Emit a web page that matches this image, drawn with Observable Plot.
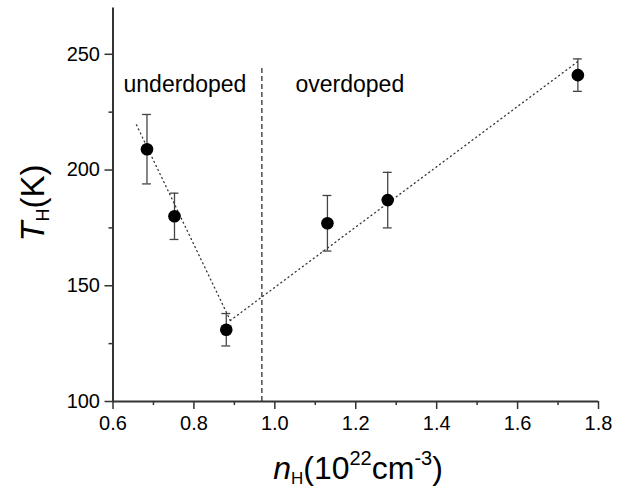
<!DOCTYPE html>
<html><head><meta charset="utf-8">
<script src="https://cdn.jsdelivr.net/npm/d3@7"></script>
<script src="https://cdn.jsdelivr.net/npm/@observablehq/plot@0.6"></script>
<style>body{margin:0;background:#fff}</style>
</head><body><div id="chart"></div>
<script>
// Data
const nH = [0.684, 0.752, 0.880, 1.130, 1.279, 1.749];
const TH = [209, 180, 131, 177, 187, 241];
const errLow = [194, 170, 124, 165, 175, 234];
const errHigh = [224, 190, 138, 189, 199, 248];

const fitUnderX = [0.658, 0.890];
const fitUnderY = [219.5, 135];
const fitOverX = [0.890, 1.750];
const fitOverY = [135, 247];

const boundaryX = [0.968];
const boundaryY = [100, 245];

const regionLabels = ["underdoped", "overdoped"];
const regionX = [0.626, 1.051];
const regionY = [233.5, 233.5];

const xTicks = [0.6, 0.8, 1.0, 1.2, 1.4, 1.6, 1.8];
const xMinor = [0.7, 0.9, 1.1, 1.3, 1.5, 1.7];
const yTicks = [100, 150, 200, 250];
const yMinor = [125, 175, 225];

const points = nH.map((x, i) => ({x, y: TH[i], lo: errLow[i], hi: errHigh[i]}));
const under = fitUnderX.map((x, i) => ({x, y: fitUnderY[i]}));
const over = fitOverX.map((x, i) => ({x, y: fitOverY[i]}));
const regions = regionLabels.map((t, i) => ({t, x: regionX[i], y: regionY[i]}));
const capHalf = 0.011;

const axisColor = "#333";
const plot = Plot.plot({
  width: 626, height: 491,
  marginLeft: 112.5, marginRight: 28, marginTop: 7.5, marginBottom: 90,
  x: {domain: [0.6, 1.8]},
  y: {domain: [100, 270]},
  style: {fontFamily: "'Liberation Sans', Arial, sans-serif", fontSize: "20px", color: "#000", background: "#fff"},
  marks: [
    Plot.axisX(xTicks, {tickSize: 8, tickPadding: 6, tickFormat: d3.format(".1f"), label: null, stroke: axisColor, strokeWidth: 1.5, fontSize: 20}),
    Plot.axisX(xMinor, {tickSize: 4, tickFormat: () => "", label: null, stroke: axisColor, strokeWidth: 1.5}),
    Plot.axisY(yTicks, {tickSize: 8, tickPadding: 5, label: null, stroke: axisColor, strokeWidth: 1.5, fontSize: 20}),
    Plot.axisY(yMinor, {tickSize: 4, tickFormat: () => "", label: null, stroke: axisColor, strokeWidth: 1.5}),
    Plot.ruleY([100], {stroke: axisColor, strokeWidth: 2}),
    Plot.ruleX([0.6], {stroke: axisColor, strokeWidth: 2}),
    Plot.ruleX(boundaryX, {y1: boundaryY[0], y2: boundaryY[1], stroke: "#222", strokeWidth: 1.2, strokeDasharray: "5,3"}),
    Plot.line(under, {x: "x", y: "y", stroke: "#333", strokeWidth: 1.3, strokeDasharray: "1,3.5"}),
    Plot.line(over, {x: "x", y: "y", stroke: "#333", strokeWidth: 1.3, strokeDasharray: "1,3.5"}),
    Plot.ruleX(points, {x: "x", y1: "lo", y2: "hi", stroke: "#444", strokeWidth: 1.3}),
    Plot.ruleY(points, {y: "lo", x1: d => d.x - capHalf, x2: d => d.x + capHalf, stroke: "#444", strokeWidth: 1.3}),
    Plot.ruleY(points, {y: "hi", x1: d => d.x - capHalf, x2: d => d.x + capHalf, stroke: "#444", strokeWidth: 1.3}),
    Plot.dot(points, {x: "x", y: "y", r: 6.3, fill: "#000", stroke: "none"}),
    Plot.text(regions, {x: "x", y: "y", text: "t", textAnchor: "start", lineAnchor: "bottom", fontSize: 23, fill: "#000"})
  ]
});

const svg = d3.select(plot);
// x-axis label: n_H(10^22 cm^-3)
const xl = svg.append("text")
  .attr("x", 358).attr("y", 479)
  .attr("text-anchor", "middle")
  .attr("font-size", 32).attr("fill", "#000");
xl.append("tspan").attr("font-style", "italic").text("n");
xl.append("tspan").attr("font-size", 17).attr("dy", 5).text("H");
xl.append("tspan").attr("dy", -5).text("(10");
xl.append("tspan").attr("font-size", 20).attr("dy", -14).text("22");
xl.append("tspan").attr("dy", 14).text("cm");
xl.append("tspan").attr("font-size", 20).attr("dy", -14).text("-3");
xl.append("tspan").attr("dy", 14).text(")");

// y-axis label: T_H(K)
const yl = svg.append("text")
  .attr("transform", "translate(44,203) rotate(-90)")
  .attr("text-anchor", "middle")
  .attr("font-size", 33).attr("fill", "#000");
yl.append("tspan").attr("font-style", "italic").text("T");
yl.append("tspan").attr("font-size", 18).attr("dy", 5).text("H");
yl.append("tspan").attr("dy", -5).text("(K)");

document.getElementById("chart").appendChild(plot);
</script>
</body></html>
